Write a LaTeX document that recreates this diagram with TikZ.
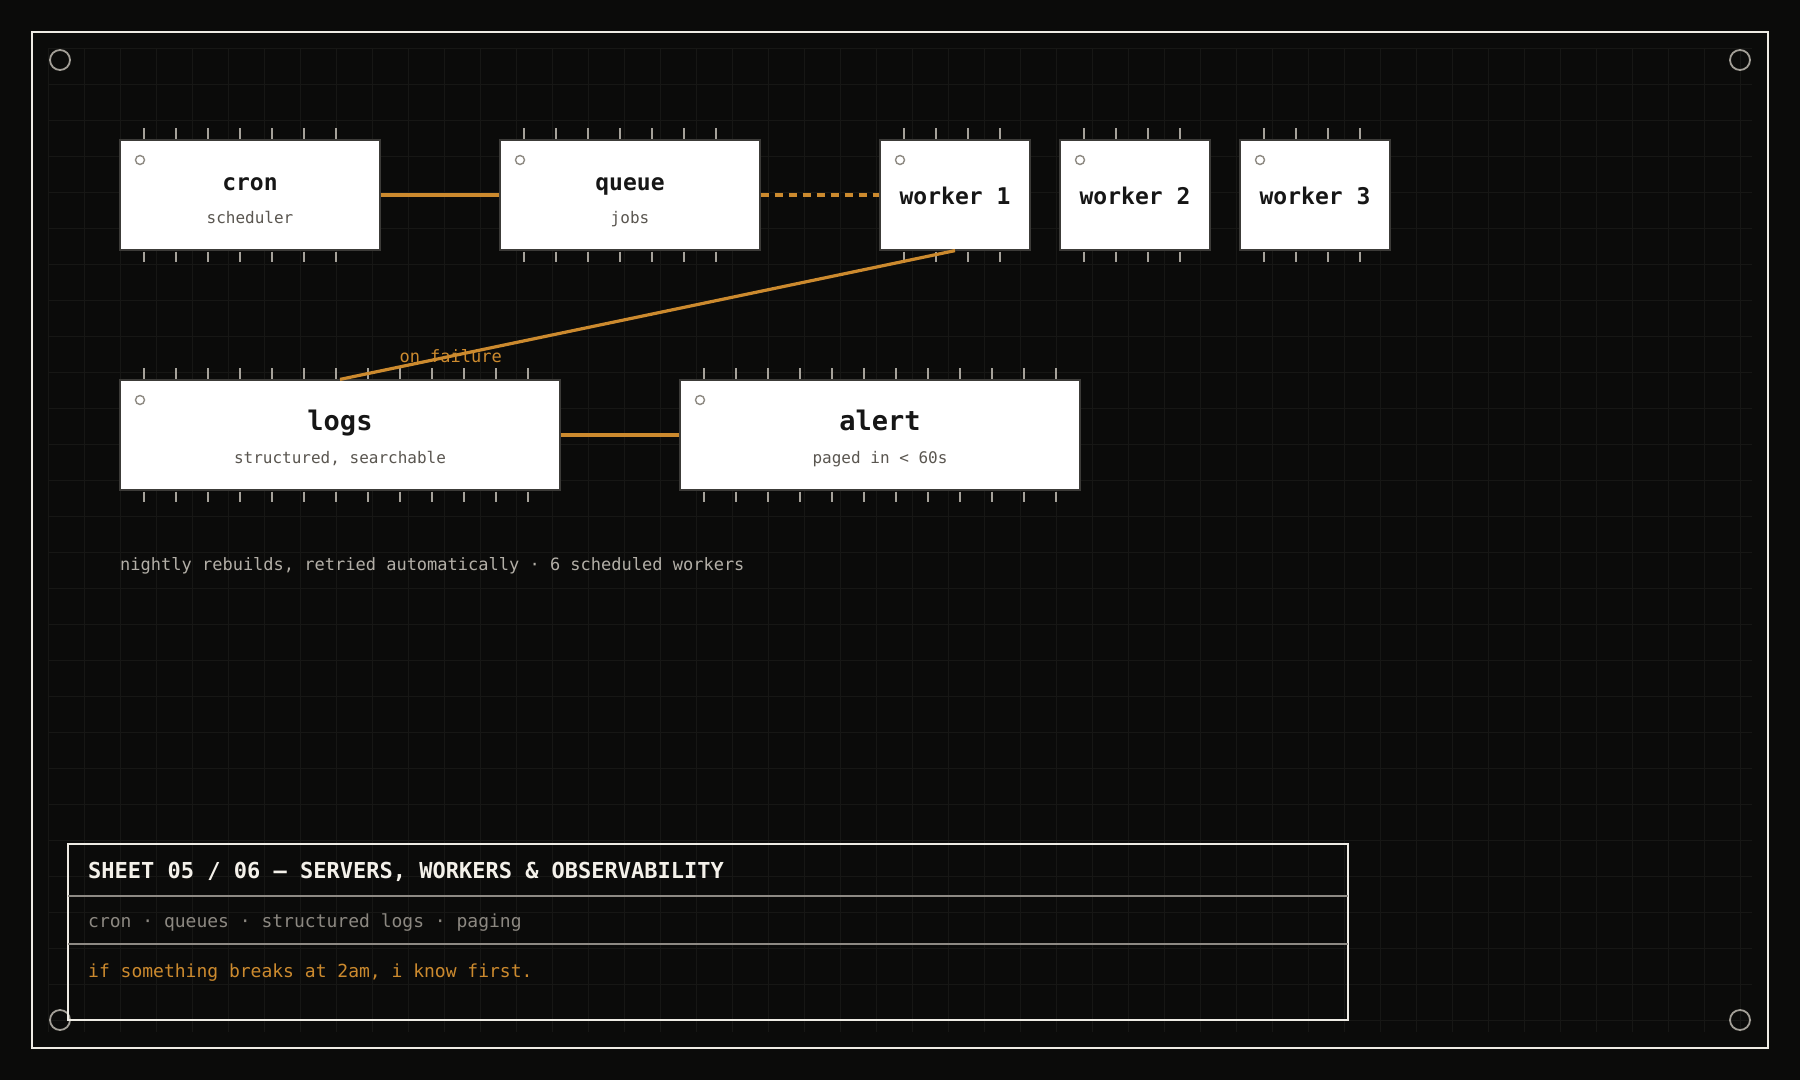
\documentclass[tikz,border=0pt]{standalone}
\usepackage{fontspec}
\setmonofont{DejaVu Sans Mono}
\definecolor{bg}{HTML}{0B0B0A}
\definecolor{gridc}{HTML}{171715}
\definecolor{framec}{HTML}{EEEBE4}
\definecolor{cornerc}{HTML}{A39F97}
\definecolor{orng}{HTML}{CC8A2E}
\definecolor{tickc}{HTML}{A6A29A}
\definecolor{ttlc}{HTML}{161616}
\definecolor{subc}{HTML}{5A5650}
\definecolor{pinc}{HTML}{8E8A83}
\definecolor{chipline}{HTML}{3C3B38}
\definecolor{annc}{HTML}{B3AFA7}
\definecolor{rowc}{HTML}{8C8881}
\definecolor{divc}{HTML}{8E8A84}
\definecolor{sheetc}{HTML}{F4F1EA}
\newcommand\mytf[1]{\ttfamily\fontsize{#1}{#1}\selectfont}
\tikzset{
  gridline/.style={draw=gridc, line width=1pt},
  chip/.style={rectangle, fill=white, draw=chipline, line width=1.2pt, minimum height=110pt, inner sep=0pt},
  pin/.style={draw=pinc, line width=1.4pt},
  tickmark/.style={draw=tickc, line width=2pt},
  ttl/.style={text=ttlc, inner sep=0pt},
  subt/.style={text=subc, inner sep=0pt, font=\mytf{16}},
  wire/.style={draw=orng, line width=3.2pt},
  lbl/.style={text=orng, inner sep=0pt, font=\mytf{17}},
  plain/.style={inner sep=0pt, anchor=base west},
  tbox/.style={rectangle, draw=framec, line width=2pt, minimum width=1280pt, minimum height=176pt, inner sep=0pt},
}
\newcommand\chipbox[8]{%
  \node[chip, minimum width=#4pt] (#1) at ({#2+#4/2},{#3+55}) {};
  \draw[pin] ({#2+20},{#3+20}) circle (4.5);
  \pgfmathtruncatemacro\ntick{floor((#4-48)/32)}%
  \foreach \k in {0,...,\ntick}{%
    \draw[tickmark] ({#2+24+32*\k},{#3-12}) -- ({#2+24+32*\k},{#3-1.5});
    \draw[tickmark] ({#2+24+32*\k},{#3+111.5}) -- ({#2+24+32*\k},{#3+122});
  }%
  \node[ttl, font=\mytf{#5}\bfseries, anchor=base] (#1-t) at ({#2+#4/2},{#3+#6}) {#7};
  \if\relax\detokenize{#8}\relax\else
    \node[subt, anchor=base] (#1-s) at ({#2+#4/2},{#3+83}) {#8};
  \fi
}
\begin{document}
\begin{tikzpicture}[x=1pt,y=-1pt]
\useasboundingbox (0,0) rectangle (1800,1080);
\fill[bg] (0,0) rectangle (1800,1080);
% grid
\foreach \gx in {48,84,...,1740} \draw[gridline] (\gx,48) -- (\gx,1032);
\foreach \gy in {48,84,...,1020} \draw[gridline] (48,\gy) -- (1752,\gy);
% frame
\draw[framec, line width=2.5pt] (32,32) rectangle (1768,1048);
\foreach \cx/\cy in {60/60,1740/60,60/1020,1740/1020}
  \draw[cornerc, line width=1.8pt] (\cx,\cy) circle (10);
% chips
\chipbox{cron}{120}{140}{260}{23}{50}{cron}{scheduler}
\chipbox{queue}{500}{140}{260}{23}{50}{queue}{jobs}
\chipbox{w1}{880}{140}{150}{23}{64}{worker 1}{}
\chipbox{w2}{1060}{140}{150}{23}{64}{worker 2}{}
\chipbox{w3}{1240}{140}{150}{23}{64}{worker 3}{}
\chipbox{logs}{120}{380}{440}{27}{50}{logs}{structured, searchable}
\chipbox{alert}{680}{380}{400}{27}{50}{alert}{paged in < 60s}
% connectors
\draw[wire] (cron) -- (queue);
\draw[wire, dash pattern=on 8pt off 6pt] (queue) -- (w1);
\draw[wire] (w1.south) -- node[pos=0.82, lbl] (fail) {on failure} (logs.north);
\draw[wire] (logs) -- (alert);
% annotation
\node[plain, text=annc, font=\mytf{17}] (note) at (120,570) {nightly rebuilds, retried automatically · 6 scheduled workers};
% title block
\node[tbox] (tb) at (708,932) {};
\draw[divc, line width=1.6pt] (68,896) -- (1348,896);
\draw[divc, line width=1.6pt] (68,944) -- (1348,944);
\node[plain, text=sheetc, font=\mytf{22}\bfseries] (sheet) at (88,878) {SHEET 05 / 06 — SERVERS, WORKERS \& OBSERVABILITY};
\node[plain, text=rowc, font=\mytf{18}] (tags) at (88,927) {cron · queues · structured logs · paging};
\node[plain, text=orng, font=\mytf{18}] (motto) at (88,977) {if something breaks at 2am, i know first.};
\end{tikzpicture}
\end{document}
